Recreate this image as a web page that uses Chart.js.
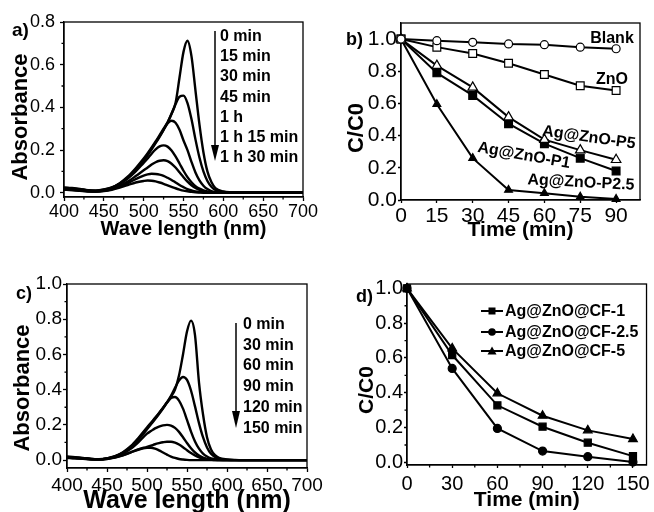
<!DOCTYPE html>
<html>
<head>
<meta charset="utf-8">
<script src="https://cdn.jsdelivr.net/npm/chart.js@4.4.0/dist/chart.umd.min.js"></script>
<style>
  body { margin: 0; background: #fff; }
  #page { position: relative; width: 654px; height: 512px; overflow: hidden;
          font-family: 'Liberation Sans', Arial, sans-serif; color: #000; }
  canvas { position: absolute; }
  .t { position: absolute; font-weight: bold; white-space: nowrap; line-height: 1; transform: translateY(-50%); }
  .c { position: absolute; font-weight: bold; white-space: nowrap; line-height: 1; }
  svg { position: absolute; left: 0; top: 0; }
</style>
</head>
<body>
<div id="page">
  <canvas id="ca" width="327" height="256" style="left:0;top:0"></canvas>
  <canvas id="cb" width="327" height="256" style="left:327px;top:0"></canvas>
  <canvas id="cc" width="327" height="256" style="left:0;top:256px"></canvas>
  <canvas id="cd" width="327" height="256" style="left:327px;top:256px"></canvas>
  <svg width="654" height="512">
    <line x1="215" y1="31" x2="215" y2="148" stroke="#000" stroke-width="1.5"/>
    <polygon points="211,145 219,145 215,161" fill="#000"/>
    <line x1="236" y1="323" x2="236" y2="414" stroke="#000" stroke-width="1.5"/>
    <polygon points="232,411 240,411 236,428" fill="#000"/>
  </svg>
</div>
<script>
// panel a / c: absorption spectra
const wavelengths = [400, 410, 420, 430, 440, 450, 460, 470, 480, 490, 500, 505, 510, 515, 520, 525, 530, 535,
  540, 545, 550, 555, 560, 565, 570, 575, 580, 585, 590, 600, 610, 620, 640, 660, 680, 700];

const aTimes = ['0 min', '15 min', '30 min', '45 min', '1 h', '1 h 15 min', '1 h 30 min'];
const aSpectra = [
  [0.025,0.022,0.018,0.012,0.010,0.015,0.025,0.045,0.075,0.115,0.160,0.185,0.212,0.240,0.270,0.300,0.330,0.370,0.420,0.540,0.660,0.712,0.640,0.480,0.320,0.190,0.100,0.050,0.022,0.006,0.002,0.001,0,0,0,0],
  [0.023,0.020,0.016,0.011,0.009,0.014,0.024,0.043,0.072,0.110,0.155,0.180,0.208,0.236,0.265,0.295,0.328,0.370,0.415,0.450,0.455,0.420,0.345,0.250,0.165,0.100,0.055,0.028,0.013,0.004,0.001,0,0,0,0,0],
  [0.021,0.018,0.015,0.010,0.008,0.013,0.023,0.042,0.070,0.106,0.150,0.175,0.203,0.232,0.262,0.295,0.325,0.337,0.328,0.295,0.245,0.200,0.145,0.095,0.058,0.033,0.017,0.008,0.004,0.001,0,0,0,0,0,0],
  [0.020,0.017,0.013,0.009,0.008,0.012,0.022,0.040,0.066,0.100,0.140,0.160,0.183,0.203,0.217,0.222,0.216,0.198,0.170,0.137,0.103,0.073,0.049,0.031,0.019,0.011,0.006,0.003,0.001,0,0,0,0,0,0,0],
  [0.018,0.015,0.011,0.008,0.007,0.010,0.018,0.032,0.052,0.078,0.105,0.118,0.132,0.143,0.150,0.152,0.148,0.136,0.118,0.096,0.073,0.052,0.035,0.022,0.013,0.007,0.003,0.001,0,0,0,0,0,0,0,0],
  [0.016,0.013,0.010,0.007,0.006,0.009,0.016,0.028,0.045,0.064,0.080,0.086,0.089,0.088,0.085,0.079,0.070,0.060,0.048,0.036,0.026,0.017,0.011,0.006,0.003,0.002,0.001,0,0,0,0,0,0,0,0,0],
  [0.014,0.012,0.009,0.006,0.005,0.008,0.014,0.024,0.036,0.048,0.055,0.057,0.056,0.053,0.048,0.042,0.035,0.028,0.021,0.015,0.010,0.007,0.004,0.002,0.001,0,0,0,0,0,0,0,0,0,0,0]
];

const cTimes = ['0 min', '30 min', '60 min', '90 min', '120 min', '150 min'];
const cSpectra = [
  [0.020,0.017,0.012,0.007,0.005,0.010,0.022,0.045,0.080,0.130,0.185,0.212,0.240,0.268,0.298,0.328,0.360,0.400,0.480,0.600,0.730,0.792,0.710,0.440,0.260,0.130,0.060,0.028,0.013,0.004,0.001,0,0,0,0,0],
  [0.018,0.015,0.011,0.006,0.005,0.010,0.021,0.043,0.077,0.125,0.180,0.208,0.236,0.265,0.295,0.328,0.365,0.410,0.452,0.472,0.455,0.395,0.305,0.210,0.130,0.072,0.036,0.017,0.008,0.002,0,0,0,0,0,0],
  [0.017,0.014,0.010,0.006,0.005,0.009,0.020,0.041,0.074,0.120,0.175,0.203,0.232,0.262,0.293,0.325,0.352,0.358,0.338,0.292,0.228,0.162,0.106,0.065,0.037,0.020,0.010,0.005,0.002,0,0,0,0,0,0,0],
  [0.015,0.012,0.009,0.005,0.004,0.008,0.018,0.036,0.065,0.105,0.150,0.165,0.180,0.190,0.197,0.200,0.196,0.183,0.160,0.130,0.097,0.067,0.043,0.026,0.014,0.007,0.003,0.001,0,0,0,0,0,0,0,0],
  [0.013,0.011,0.008,0.005,0.004,0.007,0.015,0.028,0.045,0.062,0.075,0.082,0.090,0.096,0.101,0.104,0.104,0.099,0.088,0.073,0.056,0.040,0.026,0.016,0.009,0.005,0.002,0,0,0,0,0,0,0,0,0],
  [0.012,0.010,0.007,0.004,0.003,0.006,0.014,0.027,0.044,0.060,0.069,0.070,0.065,0.055,0.043,0.031,0.020,0.012,0.006,0.003,0.001,0,0,0,0,0,0,0,0,0,0,0,0,0,0,0]
];

// panel b: C/C0 vs time
const bTime = [0, 15, 30, 45, 60, 75, 90];
const bBlank = [1.0, 0.99, 0.98, 0.97, 0.965, 0.95, 0.94];
const bZnO = [1.0, 0.95, 0.91, 0.85, 0.78, 0.71, 0.68];
const bP5 = [1.0, 0.835, 0.70, 0.515, 0.375, 0.31, 0.25];
const bP1 = [1.0, 0.79, 0.65, 0.474, 0.35, 0.26, 0.18];
const bP25 = [1.0, 0.595, 0.26, 0.062, 0.042, 0.02, 0.006];

// panel d: C/C0 vs time
const dTime = [0, 30, 60, 90, 120, 150];
const dCF1 = [1.0, 0.617, 0.328, 0.205, 0.113, 0.036];
const dCF25 = [1.0, 0.54, 0.195, 0.065, 0.033, 0.002];
const dCF5 = [1.0, 0.655, 0.397, 0.268, 0.184, 0.134];
const dLabels = ['Ag@ZnO@CF-1', 'Ag@ZnO@CF-2.5', 'Ag@ZnO@CF-5'];

// tick values
const specXTicks = [400, 450, 500, 550, 600, 650, 700];
const specXMinor = [425, 475, 525, 575, 625, 675];
const aYTicks = [0, 0.2, 0.4, 0.6, 0.8];
const aYMinor = [0.1, 0.3, 0.5, 0.7];
const unitYTicks = [0, 0.2, 0.4, 0.6, 0.8, 1.0];
const unitYMinor = [0.1, 0.3, 0.5, 0.7, 0.9];
const bXTicks = [0, 15, 30, 45, 60, 75, 90];
const dXTicks = [0, 30, 60, 90, 120, 150];
const dXMinor = [15, 45, 75, 105, 135];

Chart.defaults.font.family = "'Liberation Sans', Arial, sans-serif";
Chart.defaults.color = '#000';

// box round the plot area plus short minor ticks
const framePlugin = {
  id: 'frame',
  beforeDatasetsDraw(chart, args, opts) {
    const { ctx, chartArea: a, scales } = chart;
    ctx.save();
    ctx.strokeStyle = '#000';
    ctx.lineWidth = 1.3;
    ctx.strokeRect(a.left, a.top, a.right - a.left, a.bottom - a.top);
    ctx.beginPath();
    (opts.minorX || []).forEach(v => {
      const x = scales.x.getPixelForValue(v);
      ctx.moveTo(x, a.bottom); ctx.lineTo(x, a.bottom + opts.len);
    });
    (opts.minorY || []).forEach(v => {
      const y = scales.y.getPixelForValue(v);
      ctx.moveTo(a.left, y); ctx.lineTo(a.left - opts.len, y);
    });
    ctx.stroke();
    ctx.restore();
  }
};

function axis(o) {
  return {
    type: 'linear',
    min: o.min, max: o.max,
    afterFit: s => { if (o.w) s.width = o.w; if (o.h) s.height = o.h; },
    afterBuildTicks: s => { s.ticks = o.ticks.map(v => ({ value: v })); },
    grid: { drawOnChartArea: false, tickLength: o.tl, tickColor: '#000', tickWidth: 1.3 },
    border: { color: '#000', width: 1.3 },
    ticks: { font: { size: o.fs }, padding: o.pad, color: '#000', maxRotation: 0, autoSkip: false,
             callback: o.fmt || (v => String(v)) },
    title: o.title
      ? { display: true, text: o.title, color: '#000', font: { size: o.tfs, weight: 'bold' }, padding: { top: 0, bottom: o.tpad } }
      : { display: false }
  };
}

const fmt1 = v => v.toFixed(1);

function baseOptions(pad, x, y, frame) {
  return {
    responsive: false,
    animation: false,
    devicePixelRatio: 1,
    layout: { padding: pad },
    plugins: { legend: { display: false }, tooltip: { enabled: false }, frame: frame },
    scales: { x: axis(x), y: axis(y) }
  };
}

function spectrumSets(labels, spectra) {
  return spectra.map((s, i) => ({
    label: labels[i],
    data: wavelengths.map((w, j) => ({ x: w, y: s[j] })),
    borderColor: '#000',
    borderWidth: 2.4,
    pointRadius: 0,
    cubicInterpolationMode: 'monotone',
    fill: false
  }));
}

function markerSet(label, xs, ys, style, radius, filled) {
  return {
    label: label,
    data: xs.map((x, i) => ({ x: x, y: ys[i] })),
    borderColor: '#000',
    borderWidth: 2,
    pointStyle: style,
    pointRadius: radius,
    pointBorderWidth: 1.2,
    pointBorderColor: '#000',
    pointBackgroundColor: filled ? '#000' : '#fff',
    tension: 0,
    clip: false,
    fill: false
  };
}

// a)
new Chart(document.getElementById('ca'), {
  type: 'line',
  data: { datasets: spectrumSets(aTimes, aSpectra) },
  options: baseOptions({ top: 22, right: 24, left: 0, bottom: 0 },
    { min: 400, max: 700, ticks: specXTicks, h: 59, tl: 4, pad: 0, fs: 18, title: 'Wave length (nm)', tfs: 20, tpad: 15 },
    { min: -0.02, max: 0.8, ticks: aYTicks, w: 64, tl: 4, pad: 5, fs: 18, fmt: fmt1 },
    { minorX: specXMinor, minorY: aYMinor, len: 2.5 }),
  plugins: [framePlugin]
});

// b)
new Chart(document.getElementById('cb'), {
  type: 'line',
  data: { datasets: [
    markerSet('Blank', bTime, bBlank, 'circle', 4, false),
    markerSet('ZnO', bTime, bZnO, 'rect', 5.5, false),
    markerSet('Ag@ZnO-P5', bTime, bP5, 'triangle', 5.5, false),
    markerSet('Ag@ZnO-P1', bTime, bP1, 'rect', 5.5, true),
    markerSet('Ag@ZnO-P2.5', bTime, bP25, 'triangle', 4.5, true)
  ] },
  options: baseOptions({ top: 23, right: 14, left: 0, bottom: 0 },
    { min: 0, max: 100, ticks: bXTicks, h: 56, tl: 3, pad: 1, fs: 21, title: 'Time (min)', tfs: 21, tpad: 13 },
    { min: 0, max: 1.1, ticks: unitYTicks, w: 74, tl: 3, pad: 1, fs: 21, fmt: fmt1 },
    { len: 2 }),
  plugins: [framePlugin]
});

// c)
new Chart(document.getElementById('cc'), {
  type: 'line',
  data: { datasets: spectrumSets(cTimes, cSpectra) },
  options: baseOptions({ top: 28, right: 20, left: 0, bottom: 0 },
    { min: 400, max: 700, ticks: specXTicks, h: 44, tl: 4, pad: 2, fs: 19, title: 'Wave length (nm)', tfs: 25, tpad: -4 },
    { min: -0.045, max: 1.0, ticks: unitYTicks, w: 67, tl: 4, pad: 1, fs: 19, fmt: fmt1 },
    { minorX: specXMinor, minorY: unitYMinor, len: 2.5 }),
  plugins: [framePlugin]
});

// d)
const dChart = new Chart(document.getElementById('cd'), {
  type: 'line',
  data: { datasets: [
    markerSet(dLabels[0], dTime, dCF1, 'rect', 5, true),
    markerSet(dLabels[1], dTime, dCF25, 'circle', 4, true),
    markerSet(dLabels[2], dTime, dCF5, 'triangle', 5, true)
  ] },
  options: baseOptions({ top: 28, right: 3, left: 0, bottom: 0 },
    { min: 0, max: 159, ticks: dXTicks, h: 47, tl: 3, pad: 4, fs: 20, title: 'Time (min)', tfs: 21, tpad: -1 },
    { min: -0.015, max: 1.025, ticks: unitYTicks, w: 80, tl: 3, pad: 1, fs: 20, fmt: fmt1 },
    { minorX: dXMinor, minorY: unitYMinor, len: 2.5 }),
  plugins: [framePlugin]
});

// text annotations
const page = document.getElementById('page');
function addText(txt, x, y, size, cls, extra) {
  const d = document.createElement('div');
  d.className = cls || 't';
  d.textContent = txt;
  d.style.left = x + 'px';
  d.style.top = y + 'px';
  d.style.fontSize = size + 'px';
  if (extra) d.style.transform = extra;
  page.appendChild(d);
  return d;
}

// panel letters
addText('a)', 12, 29, 19);
addText('b)', 346, 39, 18);
addText('c)', 16, 293, 18);
addText('d)', 356, 296, 18);

// y axis titles (rotated)
const rot = 'translate(-50%,-50%) rotate(-90deg)';
addText('Absorbance', 20, 117, 22, 'c', rot);
addText('C/C0', 356, 128, 22, 'c', rot);
addText('Absorbance', 22, 388, 22, 'c', rot);
addText('C/C0', 365, 390, 21, 'c', rot);

// time labels beside the arrows
aTimes.forEach((t, i) => addText(t, 220, 36 + i * 20.2, 16));
cTimes.forEach((t, i) => addText(t, 243, 324 + i * 20.7, 16));

// curve labels in b
addText('Blank', 612, 38, 16, 'c', 'translate(-50%,-50%)');
addText('ZnO', 612, 79, 16, 'c', 'translate(-50%,-50%)');
addText('Ag@ZnO-P5', 589, 137, 16, 'c', 'translate(-50%,-50%) rotate(8deg)');
addText('Ag@ZnO-P1', 524, 155, 16, 'c', 'translate(-50%,-50%) rotate(10deg)');
addText('Ag@ZnO-P2.5', 581, 182, 16, 'c', 'translate(-50%,-50%) rotate(3deg)');

// legend for d, built from the chart's datasets
const shapes = {
  rect: '<rect x="7.5" y="2.5" width="7" height="7" fill="#000"/>',
  circle: '<circle cx="11" cy="6" r="3.8" fill="#000"/>',
  triangle: '<polygon points="11,1.5 15.5,9.5 6.5,9.5" fill="#000"/>'
};
const legendRows = [311, 332, 351];
dChart.data.datasets.forEach((ds, i) => {
  const svgNS = 'http://www.w3.org/2000/svg';
  const s = document.createElementNS(svgNS, 'svg');
  s.setAttribute('width', '23');
  s.setAttribute('height', '12');
  s.style.left = '481px';
  s.style.top = (legendRows[i] - 6) + 'px';
  s.innerHTML = '<line x1="0" y1="6" x2="22" y2="6" stroke="#000" stroke-width="2"/>' + shapes[ds.pointStyle];
  page.appendChild(s);
  addText(ds.label, 505, legendRows[i], 16);
});
</script>
</body>
</html>
